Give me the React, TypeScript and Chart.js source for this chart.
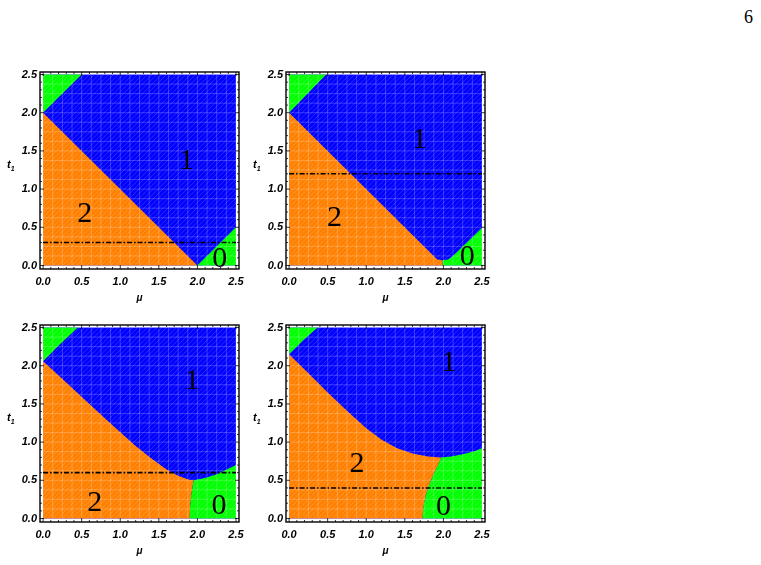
import React, { useEffect, useRef } from "react";
import { Chart, registerables } from "chart.js";
Chart.register(...registerables);

// ---------- data ----------
const muTicks = [0, 0.5, 1.0, 1.5, 2.0, 2.5];
const t1Ticks = [0, 0.5, 1.0, 1.5, 2.0, 2.5];
const muRange = [0, 2.5];
const t1Range = [0, 2.5];
const cutLevels = [0.3, 1.2, 0.6, 0.4];
const phaseNames = ["0", "1", "2"];

// Panel 1
const p1TopGreenMu = [0, 0.5];
const p1TopGreenT = [2.0, 2.5];
const p1OrangeBlueMu = [0, 2.0];
const p1OrangeBlueT = [2.0, 0];
const p1OrangeGreenMu = [2.0, 2.0];
const p1OrangeGreenT = [0, 0];
const p1BlueGreenMu = [2.0, 2.5];
const p1BlueGreenT = [0, 0.5];
const p1LabelMu = [2.29, 1.86, 0.54];
const p1LabelT = [0.12, 1.4, 0.7];

// Panel 2
const p2TopGreenMu = [0, 0.48];
const p2TopGreenT = [2.0, 2.5];
const p2OrangeBlueMu = [0, 1.92, 1.99];
const p2OrangeBlueT = [2.0, 0.08, 0.07];
const p2OrangeGreenMu = [1.99, 1.99];
const p2OrangeGreenT = [0.07, 0];
const p2BlueGreenMu = [1.99, 2.06, 2.12, 2.5];
const p2BlueGreenT = [0.07, 0.08, 0.12, 0.49];
const p2LabelMu = [2.31, 1.69, 0.59];
const p2LabelT = [0.14, 1.67, 0.65];

// Panel 3
const p3TopGreenMu = [0, 0.22, 0.45];
const p3TopGreenT = [2.06, 2.28, 2.5];
const p3OrangeBlueMu = [0, 0.3, 0.6, 0.9, 1.2, 1.4, 1.6, 1.75, 1.88, 1.95];
const p3OrangeBlueT = [2.06, 1.78, 1.5, 1.22, 0.95, 0.79, 0.64, 0.56, 0.51, 0.5];
const p3OrangeGreenMu = [1.95, 1.935, 1.92, 1.905, 1.9];
const p3OrangeGreenT = [0.5, 0.4, 0.3, 0.15, 0];
const p3BlueGreenMu = [1.95, 2.1, 2.25, 2.4, 2.5];
const p3BlueGreenT = [0.5, 0.53, 0.58, 0.65, 0.7];
const p3LabelMu = [2.28, 1.93, 0.67];
const p3LabelT = [0.19, 1.83, 0.23];

// Panel 4
const p4TopGreenMu = [0, 0.18, 0.37];
const p4TopGreenT = [2.15, 2.33, 2.5];
const p4OrangeBlueMu = [0, 0.25, 0.5, 0.75, 1.0, 1.2, 1.4, 1.6, 1.8, 1.97];
const p4OrangeBlueT = [2.15, 1.9, 1.65, 1.41, 1.18, 1.03, 0.92, 0.85, 0.81, 0.8];
const p4OrangeGreenMu = [1.97, 1.93, 1.88, 1.82, 1.77, 1.74, 1.73];
const p4OrangeGreenT = [0.8, 0.7, 0.6, 0.45, 0.3, 0.15, 0];
const p4BlueGreenMu = [1.97, 2.1, 2.25, 2.4, 2.5];
const p4BlueGreenT = [0.8, 0.81, 0.84, 0.88, 0.92];
const p4LabelMu = [2.0, 2.07, 0.88];
const p4LabelT = [0.18, 2.07, 0.74];

// ---------- styles ----------
const COLORS = { blue: "#0000FF", orange: "#FF8000", green: "#00FF00" };
const SANS = "'Liberation Sans', Arial, sans-serif";
const TICK_FONT = { family: SANS, size: 11, style: "italic" as const, weight: "bold" as const };

type Panel = {
  topGreen: [number[], number[]];
  orangeBlue: [number[], number[]];
  orangeGreen: [number[], number[]];
  blueGreen: [number[], number[]];
  labels: [number[], number[]];
  cut: number;
  left: number;
  top: number;
};

const panels: Panel[] = [
  { topGreen: [p1TopGreenMu, p1TopGreenT], orangeBlue: [p1OrangeBlueMu, p1OrangeBlueT], orangeGreen: [p1OrangeGreenMu, p1OrangeGreenT], blueGreen: [p1BlueGreenMu, p1BlueGreenT], labels: [p1LabelMu, p1LabelT], cut: cutLevels[0], left: 0, top: 60 },
  { topGreen: [p2TopGreenMu, p2TopGreenT], orangeBlue: [p2OrangeBlueMu, p2OrangeBlueT], orangeGreen: [p2OrangeGreenMu, p2OrangeGreenT], blueGreen: [p2BlueGreenMu, p2BlueGreenT], labels: [p2LabelMu, p2LabelT], cut: cutLevels[1], left: 246, top: 60 },
  { topGreen: [p3TopGreenMu, p3TopGreenT], orangeBlue: [p3OrangeBlueMu, p3OrangeBlueT], orangeGreen: [p3OrangeGreenMu, p3OrangeGreenT], blueGreen: [p3BlueGreenMu, p3BlueGreenT], labels: [p3LabelMu, p3LabelT], cut: cutLevels[2], left: 0, top: 313 },
  { topGreen: [p4TopGreenMu, p4TopGreenT], orangeBlue: [p4OrangeBlueMu, p4OrangeBlueT], orangeGreen: [p4OrangeGreenMu, p4OrangeGreenT], blueGreen: [p4BlueGreenMu, p4BlueGreenT], labels: [p4LabelMu, p4LabelT], cut: cutLevels[3], left: 246, top: 313 },
];

const pts = (mu: number[], t: number[]) => mu.map((m, i) => ({ x: m, y: t[i] }));

const meshPlugin = {
  id: "mesh",
  afterDatasetDraw(chart: any, args: any) {
    const ds = chart.data.datasets[args.index];
    if (ds.label !== "topGreen") return;
    const { ctx } = chart;
    const xs = chart.scales.x, ys = chart.scales.y;
    const x0 = xs.getPixelForValue(muRange[0]), x1 = xs.getPixelForValue(muRange[1]);
    const y0 = ys.getPixelForValue(t1Range[0]), y1 = ys.getPixelForValue(t1Range[1]);
    ctx.save();
    ctx.beginPath();
    ctx.rect(x0, y1, x1 - x0, y0 - y1);
    ctx.clip();
    const n = 20;
    const sx = (x1 - x0) / n, sy = (y0 - y1) / n;
    ctx.strokeStyle = "rgba(255,255,255,0.22)";
    ctx.lineWidth = 1;
    ctx.beginPath();
    for (let i = 0; i <= n; i++) {
      ctx.moveTo(x0 + i * sx, y1);
      ctx.lineTo(x0 + i * sx, y0);
      ctx.moveTo(x0, y1 + i * sy);
      ctx.lineTo(x1, y1 + i * sy);
    }
    ctx.stroke();
    ctx.strokeStyle = "rgba(255,255,255,0.16)";
    ctx.beginPath();
    const h = y0 - y1;
    for (let k = -2 * n; k <= 2 * n; k++) {
      const bx = x0 + (k * sx) / 2;
      ctx.moveTo(bx, y0);
      ctx.lineTo(bx + h, y1);
    }
    ctx.stroke();
    ctx.restore();
  },
};

const framePlugin = {
  id: "frame",
  afterDraw(chart: any) {
    const { ctx, chartArea: a } = chart;
    const xs = chart.scales.x, ys = chart.scales.y;
    ctx.save();
    ctx.strokeStyle = "#000";
    ctx.lineWidth = 1.4;
    ctx.strokeRect(a.left, a.top, a.right - a.left, a.bottom - a.top);
    ctx.lineWidth = 0.8;
    ctx.beginPath();
    for (let i = -1; i <= 26; i++) {
      const v = i / 10;
      const major = i % 5 === 0;
      const len = major ? 4 : 2;
      const px = xs.getPixelForValue(v);
      if (px > a.left + 1 && px < a.right - 1) {
        ctx.moveTo(px, a.bottom); ctx.lineTo(px, a.bottom - len);
        ctx.moveTo(px, a.top); ctx.lineTo(px, a.top + len);
      }
      const py = ys.getPixelForValue(v);
      if (py > a.top + 1 && py < a.bottom - 1) {
        ctx.moveTo(a.left, py); ctx.lineTo(a.left + len, py);
        ctx.moveTo(a.right, py); ctx.lineTo(a.right - len, py);
      }
    }
    ctx.stroke();
    ctx.restore();
  },
};

const labelPlugin = {
  id: "phaseLabels",
  afterDatasetsDraw(chart: any) {
    const p: Panel = chart.options.plugins.phaseLabels.panel;
    const { ctx } = chart;
    const xs = chart.scales.x, ys = chart.scales.y;
    const size = 30;
    ctx.save();
    ctx.fillStyle = "#000";
    ctx.font = `${size}px 'Liberation Serif', 'Times New Roman', serif`;
    ctx.textAlign = "center";
    ctx.textBaseline = "alphabetic";
    const [lm, lt] = p.labels;
    phaseNames.forEach((name, i) => {
      ctx.fillText(name, xs.getPixelForValue(lm[i]), ys.getPixelForValue(lt[i]) + size * 0.34);
    });
    ctx.restore();
  },
};

function PhasePanel({ panel }: { panel: Panel }) {
  const ref = useRef<HTMLCanvasElement | null>(null);
  useEffect(() => {
    if (!ref.current) return;
    const p = panel;
    const blue = pts([muRange[0], muRange[1], muRange[1], muRange[0]], [t1Range[0], t1Range[0], t1Range[1], t1Range[1]]);
    const topGreen = [{ x: muRange[0], y: t1Range[1] }, ...pts(p.topGreen[0], p.topGreen[1])];
    const orange = [{ x: muRange[0], y: t1Range[0] }, ...pts(p.orangeBlue[0], p.orangeBlue[1]), ...pts(p.orangeGreen[0], p.orangeGreen[1])];
    const green = [...pts(p.blueGreen[0], p.blueGreen[1]), { x: muRange[1], y: t1Range[0] }, ...pts(p.orangeGreen[0], p.orangeGreen[1]).reverse()];
    const cut = pts([muRange[0], muRange[1]], [p.cut, p.cut]);
    const region = (label: string, data: any[], color: string, order: number) => ({
      label, data, order,
      backgroundColor: color, borderColor: "rgba(0,0,0,0)", borderWidth: 0,
      pointRadius: 0, fill: "shape", tension: 0,
    });
    const chart = new Chart(ref.current, {
      type: "line",
      data: {
        datasets: [
          region("blue", blue, COLORS.blue, 5),
          region("orange", orange, COLORS.orange, 4),
          region("green", green, COLORS.green, 3),
          region("topGreen", topGreen, COLORS.green, 2),
          {
            label: "cut", data: cut, order: 1,
            borderColor: "#000", borderWidth: 1.6, borderDash: [5, 2, 1.5, 2],
            pointRadius: 0, fill: false,
          } as any,
        ],
      },
      options: {
        animation: false,
        responsive: false,
        devicePixelRatio: 1,
        layout: { padding: { left: 0, right: 11, top: 12, bottom: 0 } },
        plugins: {
          legend: { display: false },
          tooltip: { enabled: false },
          phaseLabels: { panel: p },
        } as any,
        scales: {
          x: {
            type: "linear",
            min: -0.04,
            max: 2.539,
            afterBuildTicks: (s: any) => { s.ticks = muTicks.map((v) => ({ value: v })); },
            afterFit: (s: any) => { s.height = 41; },
            ticks: {
              callback: (v: any) => Number(v).toFixed(1),
              font: TICK_FONT, color: "#000", padding: 6, maxRotation: 0, autoSkip: false,
            },
            grid: { display: false, drawTicks: false },
            border: { display: false },
            title: {
              display: true, text: "μ", color: "#000",
              font: { family: SANS, size: 10, style: "italic", weight: "bold" },
              padding: { top: 0, bottom: 6 },
            },
          },
          y: {
            type: "linear",
            min: -0.046,
            max: 2.533,
            afterBuildTicks: (s: any) => { s.ticks = t1Ticks.map((v) => ({ value: v })); },
            afterFit: (s: any) => { s.width = 40; },
            ticks: {
              callback: (v: any) => Number(v).toFixed(1),
              font: TICK_FONT, color: "#000", padding: 3, autoSkip: false,
            },
            grid: { display: false, drawTicks: false },
            border: { display: false },
          },
        },
      } as any,
      plugins: [meshPlugin, labelPlugin, framePlugin],
    });
    return () => chart.destroy();
  }, [panel]);
  return (
    <canvas
      ref={ref}
      width={250}
      height={250}
      style={{ position: "absolute", left: panel.left, top: panel.top, width: 250, height: 250 }}
    />
  );
}

const tLabelStyle: React.CSSProperties = {
  position: "absolute",
  font: `italic bold 11px ${SANS}`,
  color: "#000",
  lineHeight: "11px",
};

export default function App() {
  return (
    <div style={{ position: "absolute", left: 0, top: 0, width: 761, height: 565, background: "#fff", overflow: "hidden" }}>
      {panels.map((p, i) => (
        <PhasePanel key={i} panel={p} />
      ))}
      {panels.map((p, i) => (
        <span key={"t" + i} style={{ ...tLabelStyle, left: p.left + 7, top: p.top + 99 }}>
          t<span style={{ fontSize: 7, position: "relative", top: 3 }}>1</span>
        </span>
      ))}
      <span style={{ position: "absolute", left: 744, top: 7, font: "18px 'Liberation Serif', 'Times New Roman', serif", color: "#000" }}>6</span>
    </div>
  );
}
